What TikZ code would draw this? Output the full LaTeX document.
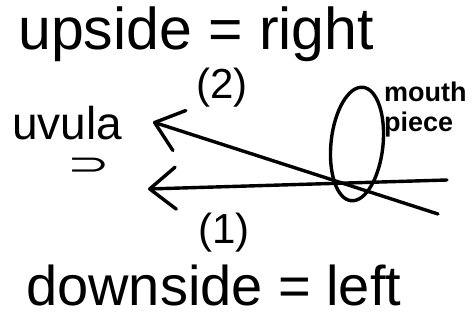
\documentclass[tikz,border=0pt]{standalone}
\usepackage{fontspec}
\setmainfont{Liberation Sans}
\newfontfamily\symbfont{DejaVu Sans}
\usetikzlibrary{arrows.meta,positioning,shapes.geometric}

\begin{document}
\begin{tikzpicture}[x=1pt, y=-1pt,
  hand/.style={inner sep=0pt, font=\fontsize{#1}{#1}\selectfont},
  note/.style={inner sep=0pt, align=left, font=\fontsize{27}{30}\selectfont\bfseries},
  lens/.style={draw, ellipse, line width=3.4pt, minimum width=52pt,
    minimum height=114pt, inner sep=0pt},
  >={Straight Barb[length=26pt, width=42pt, round]},
  every edge/.style={draw, ->, line width=3.4pt, line cap=round}]
  \useasboundingbox (0,0) rectangle (476,320);
  % titles
  \node[hand=59, anchor=base west] (upside) at (18,50) {upside = right};
  \node[hand=56, anchor=base west] (downside) at (26,305) {downside = left};
  % left labels
  \node[hand=46, anchor=base west] (uvula) at (12,140) {uvula};
  \node[hand=30, anchor=center] (hook) at (89,166) {\scalebox{1.7}[1]{\symbfont ⊃}};
  % mouthpiece
  \node[lens, rotate=-6] (mouthpiece) at (357,144) {};
  \node[note, anchor=north west] (mouthlabel) at (384,82) {mouth\\piece};
  % arrows
  \coordinate (tail2) at (438,214);
  \coordinate (tip2) at (153,122);
  \coordinate (tail1) at (447,180);
  \coordinate (tip1) at (148,189);
  \draw (tail2) edge (tip2);
  \draw (tail1) edge (tip1);
  \node[hand=42] (two) at (222,88) {(2)};
  \node[hand=42] (one) at (224,233) {(1)};
\end{tikzpicture}
\end{document}
